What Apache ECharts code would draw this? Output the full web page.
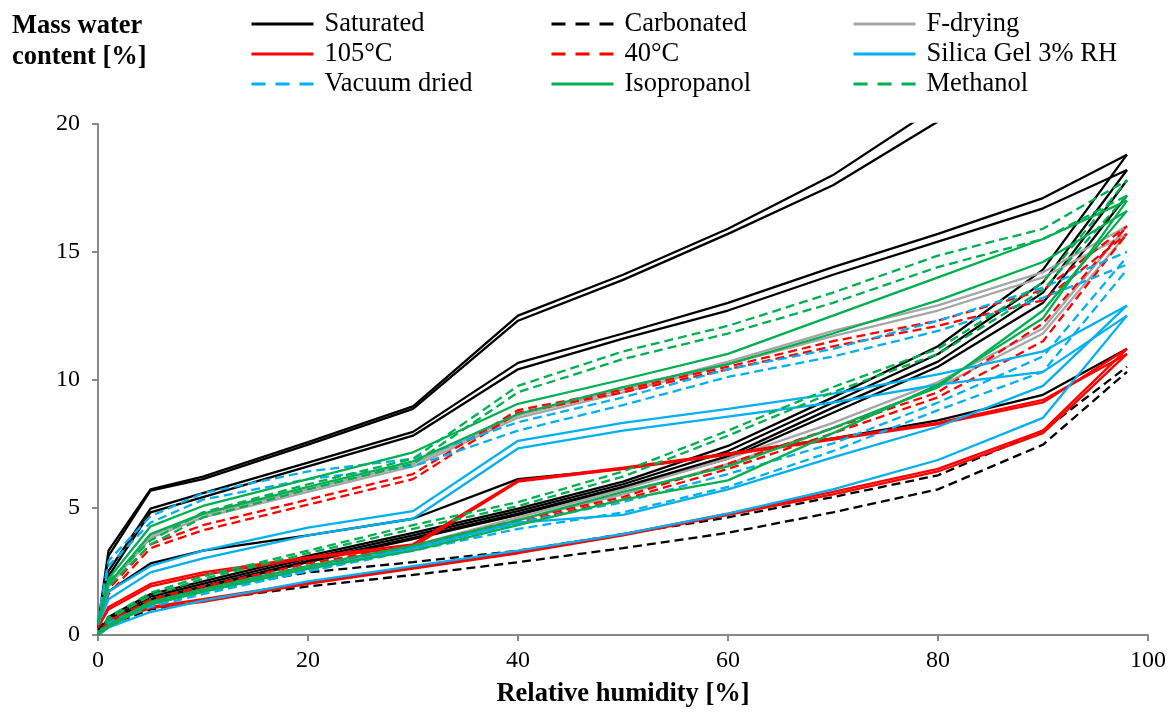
<!DOCTYPE html>
<html><head><meta charset="utf-8">
<script src="https://cdn.jsdelivr.net/npm/echarts@6/dist/echarts.min.js"></script>
<style>html,body{margin:0;padding:0;background:#fff}#c{width:1169px;height:713px}</style>
</head><body><div id="c"></div>
<script>
// Relative humidity steps [%]
const RH = [0, 1, 5, 10, 20, 30, 40, 50, 60, 70, 80, 90, 98];
const xTicks = [0, 20, 40, 60, 80, 100];
const yTicks = [0, 5, 10, 15, 20];

// Saturated (black solid)
const satDesInit1 = [0.4, 3.3, 5.7, 6.2, 7.55, 8.95, 12.5, 14.1, 15.9, 18.0, 20.7, null, null];
const satDesInit2 = [0.3, 3.1, 5.65, 6.1, 7.45, 8.85, 12.3, 13.9, 15.7, 17.6, 20.1, null, null];
const satDes1 = [0.5, 2.5, 4.95, 5.55, 6.75, 7.95, 10.65, 11.8, 13.0, 14.4, 15.7, 17.1, 18.8];
const satDes2 = [0.4, 2.3, 4.8, 5.4, 6.6, 7.8, 10.4, 11.6, 12.7, 14.1, 15.4, 16.7, 18.2];
const satMid = [0.3, 1.7, 2.8, 3.3, 3.9, 4.55, 6.1, 6.5, 7.1, 7.7, 8.4, 9.4, 11.2];
const satAds1 = [0, 0.7, 1.6, 2.1, 3.1, 4.0, 4.95, 6.0, 7.4, 9.3, 11.3, 14.3, 18.8];
const satAds2 = [0, 0.6, 1.5, 2.0, 3.0, 3.9, 4.85, 5.9, 7.2, 9.1, 11.0, 13.8, 18.2];
const satAds3 = [0, 0.5, 1.4, 1.9, 2.9, 3.8, 4.75, 5.8, 7.0, 8.9, 10.7, 13.4, 17.8];
const satAds4 = [0, 0.5, 1.35, 1.85, 2.85, 3.75, 4.7, 5.75, 6.9, 8.7, 10.5, 13.0, 17.2];
// Carbonated (black dashed)
const carbAds = [0, 0.4, 1.0, 1.35, 1.9, 2.35, 2.85, 3.4, 4.0, 4.8, 5.7, 7.45, 10.3];
const carbDes = [0.2, 0.7, 1.3, 1.75, 2.45, 2.85, 3.3, 3.95, 4.6, 5.4, 6.25, 8.0, 10.5];
// F-drying (grey)
const fdDes1 = [0.5, 2.0, 3.9, 4.7, 5.7, 6.7, 8.6, 9.6, 10.7, 11.9, 12.9, 14.2, 16.0];
const fdDes2 = [0.4, 1.9, 3.8, 4.6, 5.6, 6.6, 8.5, 9.5, 10.6, 11.7, 12.7, 14.0, 15.7];
const fdAds1 = [0, 0.4, 1.3, 1.8, 2.7, 3.5, 4.6, 5.7, 6.9, 8.3, 9.9, 12.0, 16.0];
const fdAds2 = [0, 0.35, 1.2, 1.7, 2.6, 3.4, 4.5, 5.5, 6.7, 8.1, 9.7, 11.8, 15.7];
// 105°C (red solid)
const t105Ads1 = [0, 0.5, 1.05, 1.3, 2.0, 2.6, 3.2, 3.9, 4.7, 5.5, 6.4, 7.9, 11.0];
const t105Ads2 = [0, 0.6, 1.1, 1.4, 2.05, 2.65, 3.25, 3.95, 4.75, 5.6, 6.5, 8.0, 11.2];
const t105Des1 = [0.3, 1.0, 1.9, 2.35, 3.0, 3.45, 6.0, 6.5, 7.05, 7.65, 8.25, 9.1, 11.2];
const t105Des2 = [0.3, 1.1, 2.0, 2.45, 3.05, 3.55, 6.05, 6.55, 7.1, 7.7, 8.3, 9.2, 11.0];
// 40°C (red dashed)
const t40Des1 = [0.4, 1.8, 3.55, 4.3, 5.3, 6.3, 8.8, 9.6, 10.5, 11.5, 12.3, 13.5, 16.0];
const t40Des2 = [0.3, 1.6, 3.4, 4.1, 5.1, 6.1, 8.7, 9.5, 10.4, 11.3, 12.1, 13.1, 15.7];
const t40Ads1 = [0, 0.5, 1.4, 1.9, 2.8, 3.5, 4.5, 5.4, 6.7, 8.1, 9.5, 12.2, 16.0];
const t40Ads2 = [0, 0.45, 1.3, 1.8, 2.7, 3.4, 4.4, 5.3, 6.5, 7.9, 9.3, 11.5, 15.7];
// Silica Gel 3% RH (blue solid)
const sgDes1 = [0.5, 1.7, 2.7, 3.3, 4.2, 4.85, 7.6, 8.3, 8.85, 9.45, 10.2, 11.1, 12.9];
const sgDes2 = [0.4, 1.4, 2.45, 3.0, 3.9, 4.55, 7.3, 8.0, 8.55, 9.1, 9.8, 10.3, 12.5];
const sgAds1 = [0, 0.3, 0.9, 1.35, 2.1, 2.7, 3.3, 3.95, 4.75, 5.7, 6.85, 8.5, 12.5];
const sgAds2 = [0, 0.4, 1.2, 1.7, 2.6, 3.4, 4.4, 4.7, 5.7, 6.95, 8.15, 9.75, 12.9];
// Vacuum dried (blue dashed)
const vdDes1 = [0.6, 2.9, 4.65, 5.55, 6.4, 6.9, 8.33, 9.3, 10.4, 11.2, 12.3, 13.6, 15.0];
const vdDes2 = [0.5, 2.7, 4.4, 5.3, 6.1, 6.6, 8.0, 9.0, 10.1, 10.9, 11.9, 13.2, 14.5];
const vdAds1 = [0, 0.5, 1.2, 1.7, 2.5, 3.3, 4.15, 4.8, 5.8, 7.2, 8.8, 10.3, 14.3];
const vdAds2 = [0, 0.4, 1.1, 1.6, 2.5, 3.4, 4.4, 5.2, 6.3, 7.5, 9.1, 10.9, 14.8];
// Isopropanol (green solid)
const ipDes1 = [0.5, 2.2, 4.25, 5.05, 6.1, 7.15, 9.05, 10.0, 11.0, 12.5, 14.0, 15.5, 17.0];
const ipDes2 = [0.4, 2.0, 3.95, 4.75, 5.8, 6.8, 8.65, 9.7, 10.6, 11.8, 13.1, 14.6, 16.6];
const ipAds1 = [0, 0.3, 1.2, 1.7, 2.6, 3.3, 4.3, 5.3, 6.05, 7.9, 9.8, 12.4, 17.0];
const ipAds2 = [0, 0.4, 1.3, 1.8, 2.7, 3.5, 4.5, 5.6, 6.6, 8.1, 9.7, 12.7, 16.6];
// Methanol (green dashed)
const meDes1 = [0.5, 2.1, 3.7, 4.8, 5.9, 6.9, 9.75, 11.1, 12.1, 13.4, 14.85, 15.9, 17.8];
const meDes2 = [0.4, 1.9, 3.55, 4.6, 5.7, 6.7, 9.5, 10.8, 11.8, 13.0, 14.4, 15.5, 17.2];
const meAds1 = [0, 0.7, 1.65, 2.3, 3.3, 4.3, 5.2, 6.4, 8.0, 9.7, 11.2, 13.8, 17.8];
const meAds2 = [0, 0.6, 1.55, 2.2, 3.2, 4.15, 5.05, 6.2, 7.8, 9.5, 11.0, 13.5, 17.2];

const BLACK = '#000000', RED = '#FF0000', GREY = '#A6A6A6', BLUE = '#00B0F0', GREEN = '#00B050';
const DASH = [9, 5];

const groups = [
  ['Saturated', BLACK, 'solid', [satDesInit1, satDesInit2, satDes1, satDes2, satMid, satAds1, satAds2, satAds3, satAds4]],
  ['Carbonated', BLACK, DASH, [carbAds, carbDes]],
  ['F-drying', GREY, 'solid', [fdDes1, fdDes2, fdAds1, fdAds2]],
  ['105°C', RED, 'solid', [t105Ads1, t105Ads2, t105Des1, t105Des2]],
  ['40°C', RED, DASH, [t40Des1, t40Des2, t40Ads1, t40Ads2]],
  ['Silica Gel 3% RH', BLUE, 'solid', [sgDes1, sgDes2, sgAds1, sgAds2]],
  ['Vacuum dried', BLUE, DASH, [vdDes1, vdDes2, vdAds1, vdAds2]],
  ['Isopropanol', GREEN, 'solid', [ipDes1, ipDes2, ipAds1, ipAds2]],
  ['Methanol', GREEN, DASH, [meDes1, meDes2, meAds1, meAds2]]
];

const series = [];
const dashedNames = {};
groups.forEach(([name, color, type, curves]) => {
  if (type !== 'solid') dashedNames[name] = true;
  curves.forEach(vals => {
    const data = [];
    vals.forEach((v, i) => { if (v !== null) data.push([RH[i], v]); });
    series.push({
      name, type: 'line', data, symbol: 'none', showSymbol: false, clip: true,
      silent: true, color,
      lineStyle: { color, width: 2.3, type }
    });
  });
});

const legendText = { fontFamily: 'Liberation Serif', fontSize: 26.5, color: '#000', padding: [0, 0, 0, 6], lineHeight: 30 };
function mkLegend(left, names) {
  return { left, top: 9, padding: 0, orient: 'vertical', itemWidth: 62, itemHeight: 12, itemGap: 0,
    textStyle: legendText, selectedMode: false,
    itemStyle: { opacity: 0 },
    data: names.map(n => ({ name: n, lineStyle: { width: 3, type: dashedNames[n] ? [14, 10] : 'solid' } })) };
}

const chart = echarts.init(document.getElementById('c'), null, { renderer: 'canvas' });
chart.setOption({
  animation: false,
  backgroundColor: '#fff',
  title: { text: 'Mass water\ncontent [%]', left: 12, top: 11, padding: 0,
    textStyle: { fontFamily: 'Liberation Serif', fontSize: 26.5, fontWeight: 'bold', color: '#000', lineHeight: 31 } },
  legend: [
    mkLegend(250, ['Saturated', '105°C', 'Vacuum dried']),
    mkLegend(550, ['Carbonated', '40°C', 'Isopropanol']),
    mkLegend(852, ['F-drying', 'Silica Gel 3% RH', 'Methanol'])
  ],
  grid: { left: 98, right: 16, top: 124, bottom: 73, containLabel: false },
  xAxis: {
    type: 'value', min: xTicks[0], max: xTicks[xTicks.length - 1], interval: 20,
    name: 'Relative humidity [%]', nameLocation: 'middle', nameGap: 46,
    nameTextStyle: { fontFamily: 'Liberation Serif', fontSize: 26.5, fontWeight: 'bold', color: '#000' },
    axisLine: { lineStyle: { color: '#898989', width: 2 } },
    axisTick: { show: true, length: 6, lineStyle: { color: '#898989', width: 2 } },
    axisLabel: { fontFamily: 'Liberation Serif', fontSize: 24, color: '#000', margin: 14 },
    splitLine: { show: false }
  },
  yAxis: {
    type: 'value', min: yTicks[0], max: yTicks[yTicks.length - 1], interval: 5,
    axisLine: { show: true, lineStyle: { color: '#898989', width: 2 } },
    axisTick: { show: true, length: 6, lineStyle: { color: '#898989', width: 2 } },
    axisLabel: { fontFamily: 'Liberation Serif', fontSize: 24, color: '#000', margin: 18 },
    splitLine: { show: false }
  },
  series
});
</script></body></html>
